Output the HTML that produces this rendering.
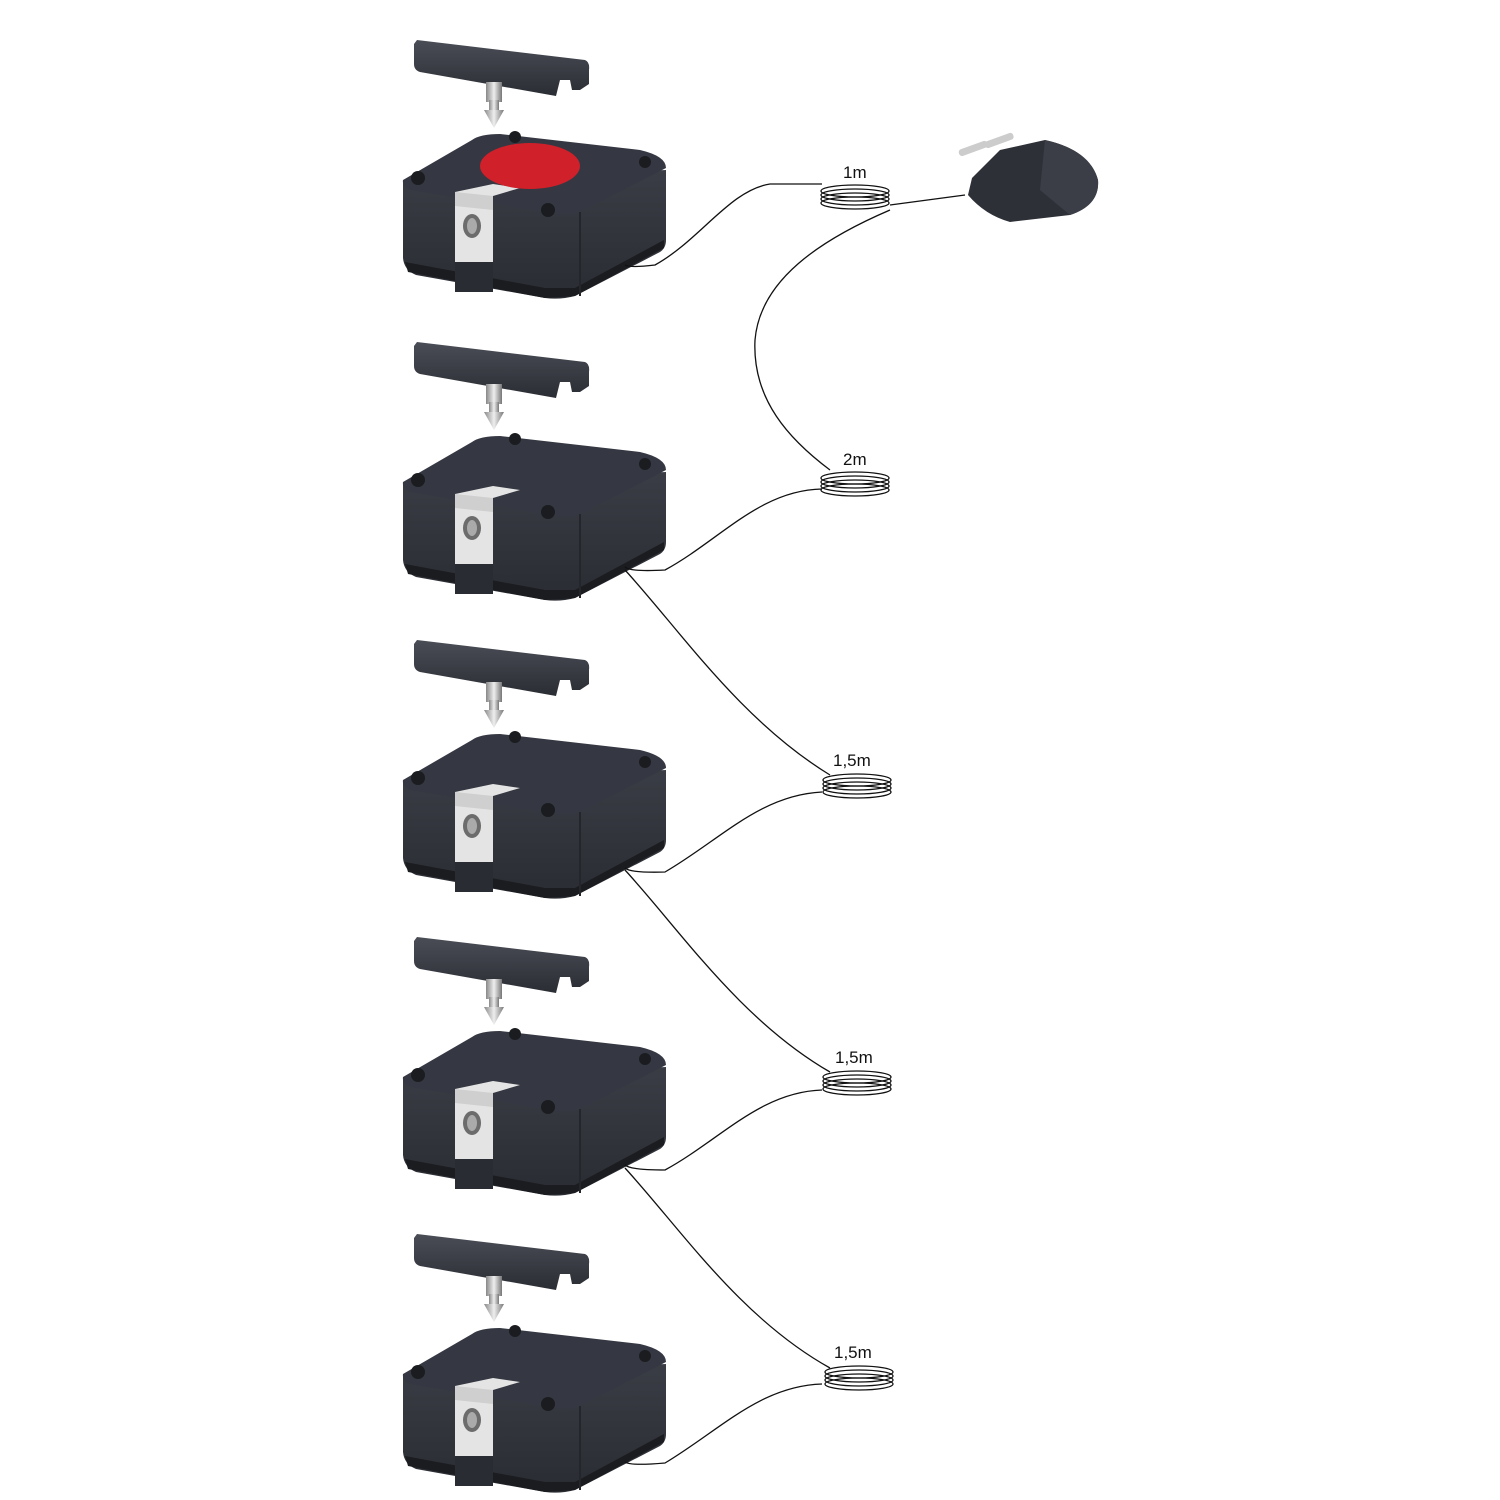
<!DOCTYPE html>
<html><head><meta charset="utf-8"><style>
html,body{margin:0;padding:0;background:#fff;width:1500px;height:1500px;overflow:hidden}
svg{display:block}
text{font-family:"Liberation Sans",sans-serif;font-size:17px;fill:#111}
</style></head><body>
<svg width="1500" height="1500" viewBox="0 0 1500 1500" xmlns="http://www.w3.org/2000/svg">
<defs>
<linearGradient id="front" x1="0" y1="0" x2="0" y2="1"><stop offset="0" stop-color="#3a3d45"/><stop offset="1" stop-color="#2a2c33"/></linearGradient>
<linearGradient id="key" x1="0" y1="0" x2="0" y2="1"><stop offset="0" stop-color="#4a4d56"/><stop offset="1" stop-color="#2b2d34"/></linearGradient>
<linearGradient id="pin" x1="0" y1="0" x2="1" y2="0"><stop offset="0" stop-color="#888"/><stop offset=".5" stop-color="#eee"/><stop offset="1" stop-color="#777"/></linearGradient>
<g id="unit">
  <!-- key -->
  <path d="M417,40 L585,60 Q590,62 589,70 L589,84 L580,90 L572,90 L570,80 L560,80 L556,96 L420,72 Q414,70 414,64 L414,44 Z" fill="url(#key)"/>
  <!-- pin -->
  <rect x="486" y="82" width="16" height="20" fill="url(#pin)"/>
  <rect x="489" y="100" width="10" height="10" fill="url(#pin)"/>
  <path d="M484,110 L504,110 L494,128 Z" fill="url(#pin)"/>
  <!-- body -->
  <path d="M403,182 L403,258 Q404,270 416,275 L545,298 Q560,300 575,296 L660,252 Q666,248 666,240 L666,170 Z" fill="url(#front)"/>
  <path d="M405,262 L545,288 L575,288 L664,240 L664,248 L575,296 L545,298 L408,272 Z" fill="#1b1c20"/>
  <path d="M403,180 L472,140 Q480,134 500,134 L640,150 Q666,156 666,168 L580,212 Q570,216 555,214 L410,190 Q402,187 403,180 Z" fill="#353842"/>
  <path d="M580,212 L580,296" stroke="#24262c" stroke-width="2"/>
  <!-- screw holes -->
  <circle cx="418" cy="178" r="7" fill="#1b1c20"/>
  <circle cx="515" cy="137" r="6" fill="#1b1c20"/>
  <circle cx="645" cy="162" r="6" fill="#1b1c20"/>
  <circle cx="548" cy="210" r="7" fill="#1b1c20"/>
  <!-- silver block -->
  <path d="M455,192 L493,184 L520,188 L493,196 L493,270 L455,262 Z" fill="#e4e4e4"/>
  <path d="M455,192 L493,196 L493,210 L455,206 Z" fill="#cfcfcf"/>
  <ellipse cx="472" cy="226" rx="9" ry="12" fill="#6c6c6c"/>
  <ellipse cx="472" cy="226" rx="5" ry="8" fill="#aaa"/>
  <rect x="455" y="262" width="38" height="30" fill="#2a2c33"/>
</g>
<g id="coil" fill="none" stroke="#111" stroke-width="1.3">
  <ellipse cx="0" cy="-6" rx="34" ry="6"/>
  <ellipse cx="0" cy="-2" rx="34" ry="6"/>
  <ellipse cx="0" cy="2" rx="34" ry="6"/>
  <ellipse cx="0" cy="6" rx="34" ry="6"/>
</g>
</defs>

<use href="#unit"/>
<use href="#unit" y="302"/>
<use href="#unit" y="600"/>
<use href="#unit" y="897"/>
<use href="#unit" y="1194"/>

<!-- red disc -->
<ellipse cx="530" cy="166" rx="50" ry="23" fill="#d0202a"/>

<!-- coils & labels -->
<use href="#coil" x="855" y="197"/><text x="843" y="178">1m</text>
<use href="#coil" x="855" y="484"/><text x="843" y="465">2m</text>
<use href="#coil" x="857" y="786"/><text x="833" y="766">1,5m</text>
<use href="#coil" x="857" y="1083"/><text x="835" y="1063">1,5m</text>
<use href="#coil" x="859" y="1378"/><text x="834" y="1358">1,5m</text>

<!-- cables -->
<g fill="none" stroke="#111" stroke-width="1.3">
  <path d="M625,265 Q630,268 655,265 C700,240 730,190 770,184 L822,184"/>
  <path d="M890,205 L965,195"/>
  <path d="M890,210 C820,240 760,280 755,340 C752,400 790,440 830,470"/>
  <path d="M625,567 Q630,572 665,570 C720,540 760,490 822,489"/>
  <path d="M625,570 C680,630 740,720 830,775"/>
  <path d="M625,868 Q630,873 665,872 C720,840 760,795 822,792"/>
  <path d="M625,870 C680,930 740,1020 830,1072"/>
  <path d="M625,1165 Q630,1170 665,1170 C720,1140 760,1092 822,1090"/>
  <path d="M625,1168 C680,1228 740,1318 830,1368"/>
  <path d="M625,1462 Q630,1466 665,1463 C720,1430 760,1386 822,1384"/>
</g>

<!-- power adapter -->
<g>
  <rect x="958" y="145" width="30" height="7" rx="3" fill="#ccc" transform="rotate(-20 973 148)"/>
  <rect x="984" y="137" width="30" height="7" rx="3" fill="#ccc" transform="rotate(-20 999 140)"/>
  <path d="M972,178 L1000,150 L1045,140 Q1090,150 1098,180 Q1100,205 1070,215 L1010,222 Q985,215 968,195 Z" fill="#2e3038"/>
  <path d="M1045,140 Q1090,150 1098,180 Q1100,205 1070,215 L1040,190 Z" fill="#3b3e47"/>
</g>
</svg>
</body></html>
